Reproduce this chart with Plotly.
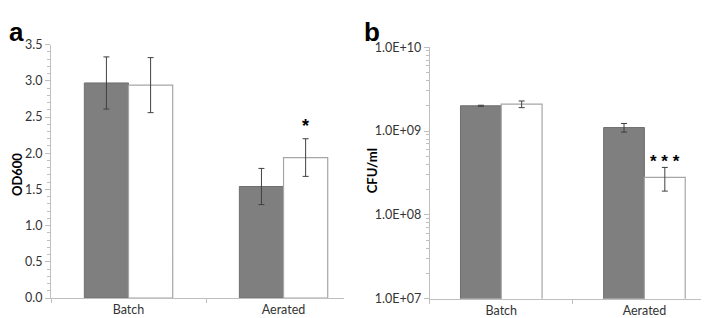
import plotly.graph_objects as go

categories = ["Batch", "Aerated"]

# Panel a: OD600
od_gray = [2.97, 1.54]
od_gray_err = [0.36, 0.25]
od_white = [2.94, 1.94]
od_white_err = [0.38, 0.26]

# Panel b: CFU/ml
cfu_gray = [2.0e9, 1.10e9]
cfu_gray_err = [0.03e9, 0.13e9]
cfu_white = [2.09e9, 2.8e8]
cfu_white_err = [0.19e9, 0.88e8]

log_tickvals = [1e7, 1e8, 1e9, 1e10]
log_ticktext = ["1.0E+07", "1.0E+08", "1.0E+09", "1.0E+10"]

W, H = 709, 318
GRAY = "#7f7f7f"
ERR = "#404040"
AX = "#bfbfbf"
FONT = "Lato"
TXT = "#333333"

def px_x(p):
    return p / W

def px_y(p):
    return 1 - p / H

fig = go.Figure()

def add_pair(xa, ya, g, ge, w, we):
    fig.add_trace(go.Bar(x=categories, y=g, xaxis=xa, yaxis=ya,
                         marker=dict(color=GRAY, line=dict(color="#6f6f6f", width=1)),
                         error_y=dict(type="data", array=ge, color=ERR, thickness=1, width=3),
                         showlegend=False))
    fig.add_trace(go.Bar(x=categories, y=w, xaxis=xa, yaxis=ya,
                         marker=dict(color="white", line=dict(color="#a6a6a6", width=1.2)),
                         error_y=dict(type="data", array=we, color=ERR, thickness=1, width=3),
                         showlegend=False))

add_pair("x", "y", od_gray, od_gray_err, od_white, od_white_err)
add_pair("x2", "y2", cfu_gray, cfu_gray_err, cfu_white, cfu_white_err)

tickfont = dict(family=FONT, size=12.5, color=TXT)

fig.update_layout(
    width=W, height=H,
    margin=dict(l=0, r=0, t=0, b=0),
    paper_bgcolor="white", plot_bgcolor="white",
    barmode="group", bargap=0.43, bargroupgap=0,
    xaxis=dict(domain=[px_x(43), px_x(336)], anchor="y", type="category",
               range=[-0.5, 1.39], showline=True, linecolor=AX, linewidth=1,
               ticks="outside", tickson="boundaries", ticklen=4, tickcolor=AX,
               tickfont=tickfont, showgrid=False, zeroline=False),
    yaxis=dict(domain=[px_y(296), px_y(30)], anchor="x", range=[0, 3.5],
               dtick=0.5, tickformat=".1f", showline=True, linecolor=AX, linewidth=1,
               ticks="outside", ticklen=5, tickcolor=AX, tickfont=tickfont,
               minor=dict(dtick=0.1, ticks="outside", ticklen=3, tickcolor=AX, showgrid=False),
               showgrid=False, zeroline=False),
    xaxis2=dict(domain=[px_x(421.7), px_x(708)], anchor="y2", type="category",
                range=[-0.5, 1.5], showline=True, linecolor=AX, linewidth=1,
                ticks="outside", tickson="boundaries", ticklen=4, tickcolor=AX,
                tickfont=tickfont, showgrid=False, zeroline=False),
    yaxis2=dict(domain=[px_y(296.7), px_y(32.7)], anchor="x2", type="log",
                range=[7, 10], tickvals=log_tickvals, ticktext=log_ticktext,
                showline=True, linecolor=AX, linewidth=1,
                ticks="outside", ticklen=5, tickcolor=AX, tickfont=tickfont,
                minor=dict(dtick="D1", ticks="outside", ticklen=3, tickcolor=AX, showgrid=False),
                showgrid=False, zeroline=False),
)

annotations = [
    dict(text="<b>a</b>", x=px_x(-1), y=px_y(-1), xref="paper", yref="paper",
         xanchor="left", yanchor="top", showarrow=False,
         font=dict(family="Liberation Sans", size=26, color="black")),
    dict(text="<b>b</b>", x=px_x(354), y=px_y(-1), xref="paper", yref="paper",
         xanchor="left", yanchor="top", showarrow=False,
         font=dict(family="Liberation Sans", size=26, color="black")),
    dict(text="<b>OD600</b>", x=px_x(9), y=px_y(167), xref="paper", yref="paper",
         xanchor="center", yanchor="middle",
         textangle=-90, showarrow=False,
         font=dict(family=FONT, size=13, color="black")),
    dict(text="<b>CFU/ml</b>", x=px_x(364), y=px_y(163), xref="paper", yref="paper",
         xanchor="center", yanchor="middle",
         textangle=-90, showarrow=False,
         font=dict(family=FONT, size=13, color="black")),
    dict(text="<b>*</b>", x=1.1425, y=2.38, xref="x", yref="y", showarrow=False,
         font=dict(family="Liberation Sans", size=18, color="black")),
    dict(text="<b>* * *</b>", x=1.1425, y=8.64, xref="x2", yref="y2", showarrow=False,
         font=dict(family="Liberation Sans", size=17, color="black")),
]
fig.update_layout(annotations=annotations)

fig.write_html("out.html")
